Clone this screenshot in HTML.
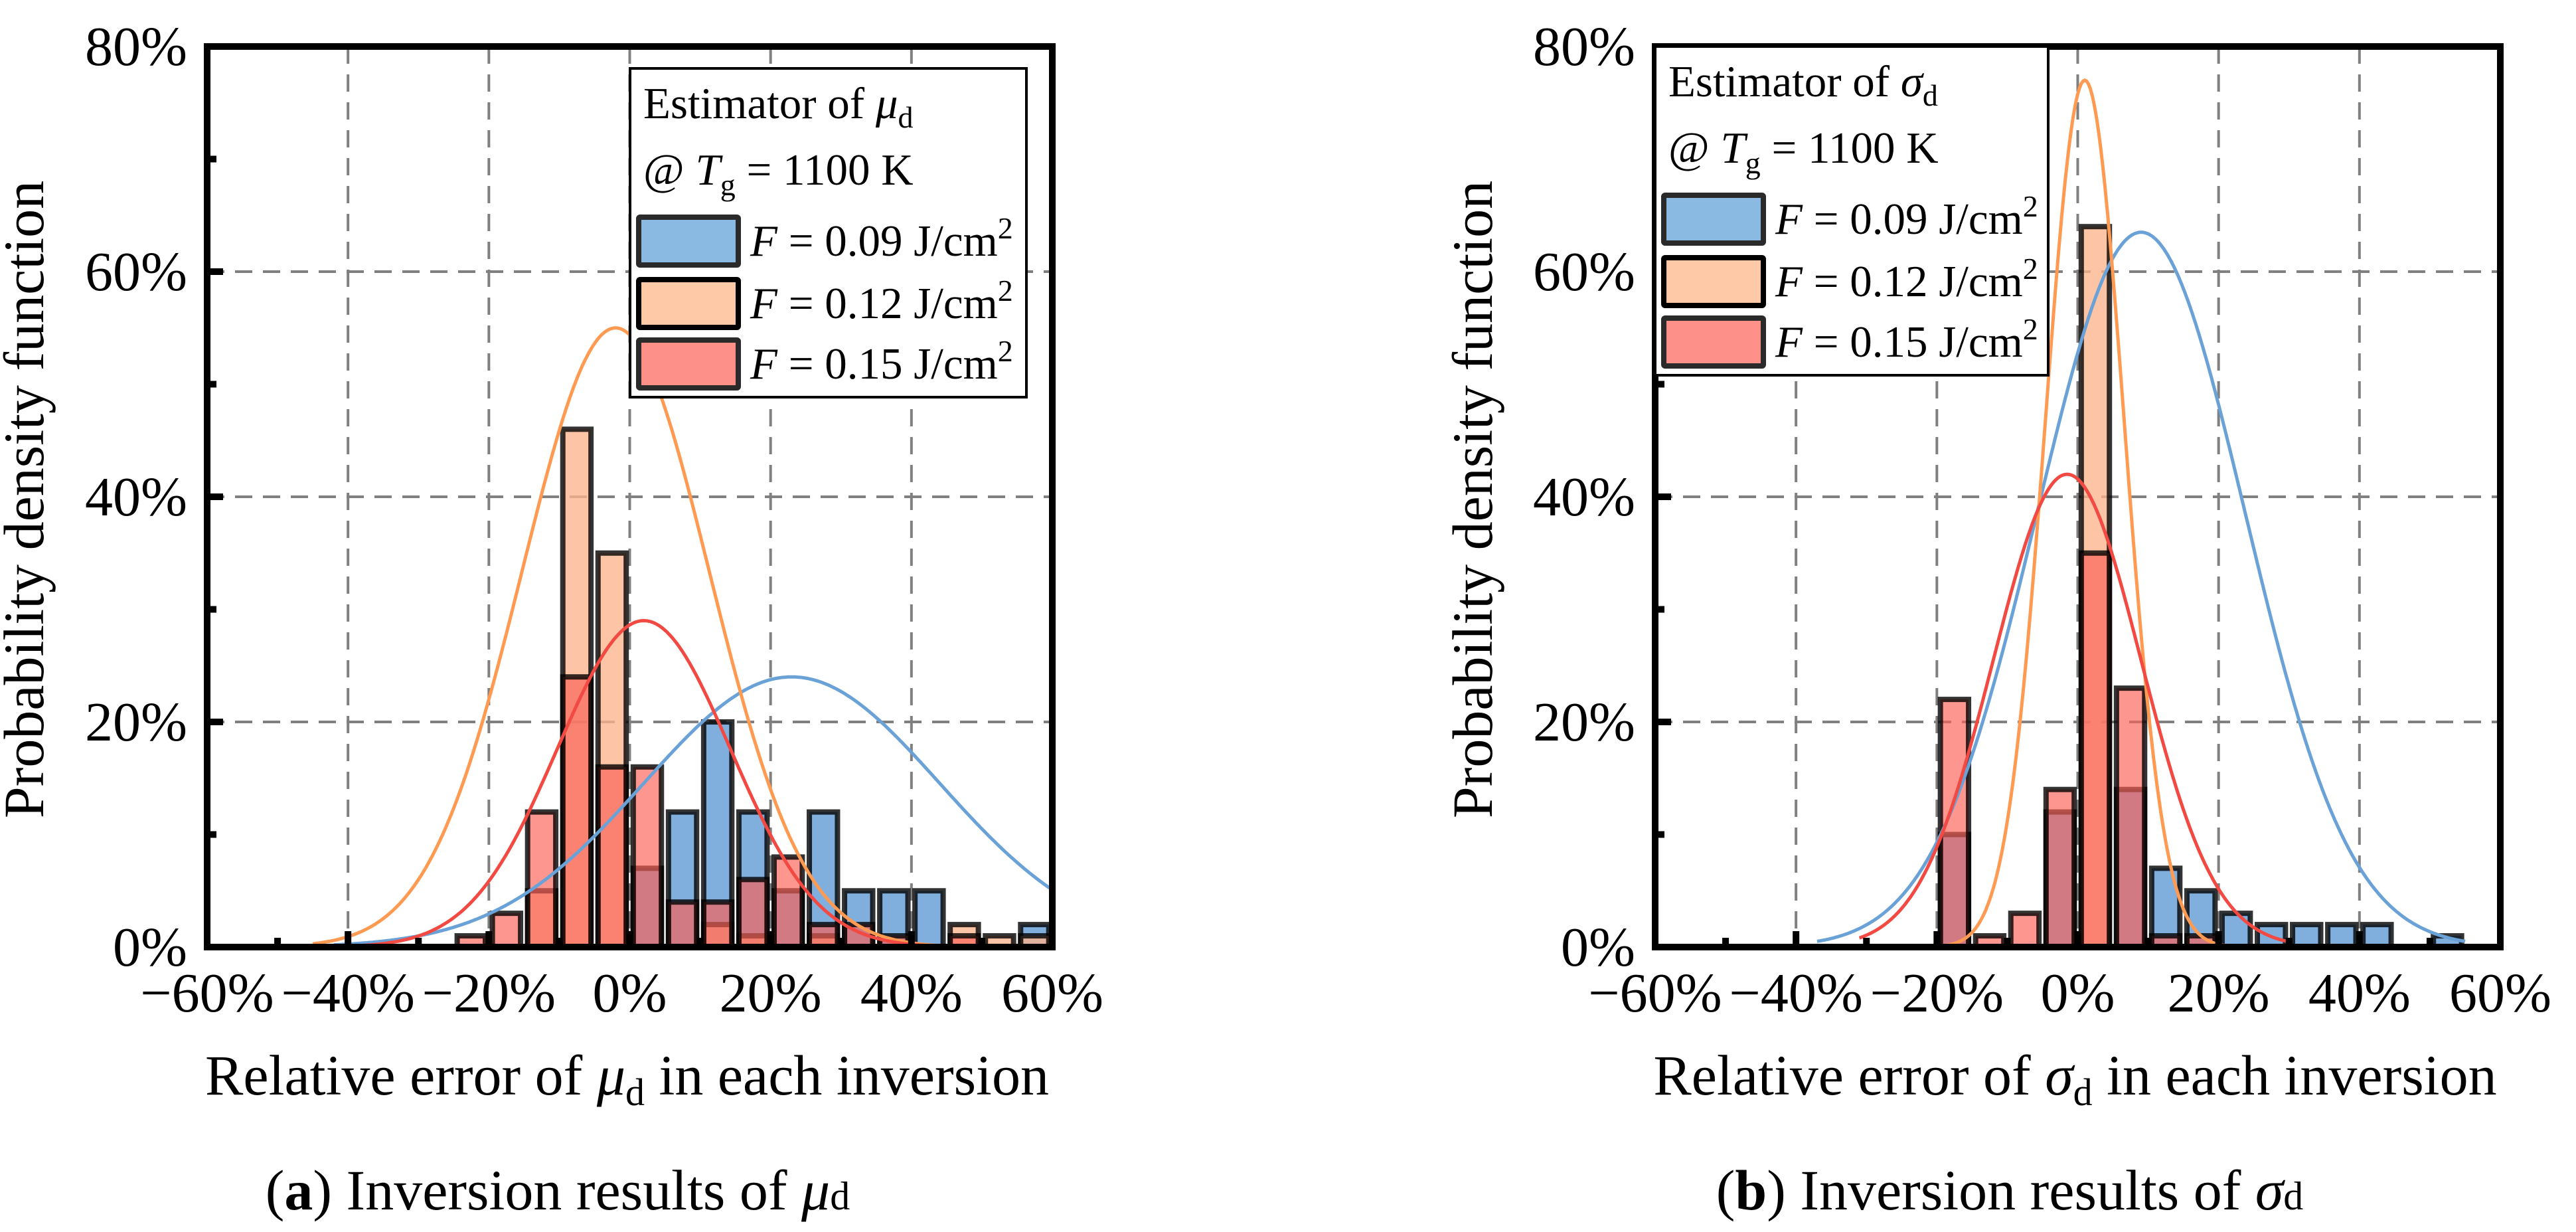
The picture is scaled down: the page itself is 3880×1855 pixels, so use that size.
<!DOCTYPE html>
<html><head><meta charset="utf-8"><style>
html,body{margin:0;padding:0;background:#fff;}
svg{display:block;font-family:"Liberation Serif",serif;}
</style></head><body>
<svg id="fig" width="3880" height="1855" viewBox="0 0 3880 1855" xmlns="http://www.w3.org/2000/svg"></svg>
<script>
// ---------- data ----------
const binCenters = [-22.5,-17.5,-12.5,-7.5,-2.5,2.5,7.5,12.5,17.5,22.5,27.5,32.5,37.5,42.5,47.5,52.5,57.5];
const seriesNames = ["F = 0.09 J/cm2","F = 0.12 J/cm2","F = 0.15 J/cm2"];
// chart (a) mu_d
const aBlue   = [0,0,0,0,0,7,12,20,12,5,12,5,5,5,0,0,2];
const aOrange = [0,0,5,46,35,0,0,2,1,0,1,0,0,0,2,1,1];
const aRed    = [1,3,12,24,16,16,4,4,6,8,2,2,1,0,1,0,0];
// fitted normal curves: mean, sd, peak, start, end (in %)
const aCurveMean = [23,-2,2];
const aCurveSd   = [21,13.3,12.3];
const aCurvePeak = [24,55,29];
const aCurveFrom = [-42,-45,-40];
const aCurveTo   = [60,60,60];
// chart (b) sigma_d
const bBlue   = [0,10,0,0,12,0,14,7,5,3,2,2,2,2,0,1,0];
const bOrange = [0,0,0,0,0,64,0,0,0,0,0,0,0,0,0,0,0];
const bRed    = [0,22,1,3,14,35,23,1,1,0,0,0,0,0,0,0,0];
const bCurveMean = [9,1,-1.5];
const bCurveSd   = [14.8,5.6,10.5];
const bCurvePeak = [63.5,77,42];
const bCurveFrom = [-37,-30,-31];
const bCurveTo   = [55,30,30];
const xTicks = [-60,-40,-20,0,20,40,60];
const yTicks = [0,20,40,60,80];

const NS = "http://www.w3.org/2000/svg";
const svg = document.getElementById("fig");
function mk(tag, attrs, parent){
  const e = document.createElementNS(NS, tag);
  for (const k in attrs) e.setAttribute(k, attrs[k]);
  (parent||svg).appendChild(e);
  return e;
}
const fills = ["rgba(79,143,208,0.72)","rgba(253,180,140,0.78)","rgba(250,95,85,0.66)"];
const legFills = ["#8ab9e1","#fdc9a7","#fd918a"];
const lineCols = ["#6aa2d8","#ff9a52","#f24a42"];

function drawChart(ox, sym, bars, cm, cs, cp, cf, ct, legW, legX, legY, letter, capX, ytitleX){
  const L = ox, R = ox + 1273, T = 70, B = 1426;
  const xs = v => L + (v + 60) / 120 * (R - L);
  const ys = v => B - v / 80 * (B - T);
  const g = mk("g", {});
  
  
  [-40,-20,0,20,40].forEach(v=>{
    const l = mk("line",{x1:xs(v),x2:xs(v),y1:T,y2:B,stroke:"#808080","stroke-width":4,"stroke-dasharray":"26,16"},g);
    
    
  });
  [20,40,60].forEach(v=>{
    const l = mk("line",{x1:L,x2:R,y1:ys(v),y2:ys(v),stroke:"#808080","stroke-width":4,"stroke-dasharray":"26,16"},g);
    
    
  });
  const bw = (xs(4) - xs(0));
  bars.forEach((arr, si) => {
    arr.forEach((v, i) => {
      if (!v) return;
      const r = mk("rect",{x:xs(binCenters[i]) - bw/2, y:ys(v), width:bw, height:ys(0)-ys(v), fill:fills[si], stroke:"rgba(0,0,0,0.8)","stroke-width":8},g);
      
      
    });
  });
  for (let si = 0; si < 3; si++){
    let d = "";
    for (let x = cf[si]; x <= ct[si] + 1e-9; x += 0.25){
      const y = cp[si] * Math.exp(-Math.pow(x - cm[si], 2) / (2 * cs[si] * cs[si]));
      d += (d ? "L" : "M") + xs(x).toFixed(1) + "," + ys(y).toFixed(1);
    }
    const p = mk("path",{d:d, fill:"none", stroke:lineCols[si], "stroke-width":5},g);
    
    
  }
  const fr = mk("rect",{x:L,y:T,width:R-L,height:B-T,fill:"none",stroke:"#000","stroke-width":10},g);
  
  
  for (let v = -50; v <= 50; v += 10){
    const len = (v % 20 === 0) ? 24 : 14;
    mk("line",{x1:xs(v),x2:xs(v),y1:B,y2:B-len,stroke:"#000","stroke-width":10},g);
  }
  for (let v = 10; v <= 70; v += 10){
    const len = (v % 20 === 0) ? 24 : 14;
    mk("line",{x1:L,x2:L+len,y1:ys(v),y2:ys(v),stroke:"#000","stroke-width":10},g);
  }
  xTicks.forEach(v=>{
    const t = mk("text",{x:xs(v),y:1523,"font-size":84,"text-anchor":"middle"},g);
    t.textContent = (v<0?"\u2212":"") + Math.abs(v) + "%";
    
    
  });
  yTicks.forEach(v=>{
    const t = mk("text",{x:L-30,y:ys(v)+28,"font-size":84,"text-anchor":"end"},g);
    t.textContent = v + "%";
    
    
  });
  const xt = mk("text",{x:(L+R)/2 - 4,y:1648,"font-size":86,"text-anchor":"middle"},g);
  xt.innerHTML = 'Relative error of <tspan font-style="italic">'+sym+'</tspan><tspan font-size="58" dy="16">d</tspan><tspan dy="-16"> in each inversion</tspan>';
  
  
  const yt = mk("text",{x:0,y:0,"font-size":86,"text-anchor":"middle",transform:"translate("+ytitleX+",752) rotate(-90)"},g);
  yt.textContent = "Probability density function";
  
  
  const lg = mk("g",{},g);
  
  
  mk("rect",{x:legX,y:legY,width:legW,height:495,fill:"#fff",stroke:"#000","stroke-width":4},lg);
  const l1 = mk("text",{x:legX+20,y:legY+75,"font-size":67},lg);
  l1.innerHTML = 'Estimator of <tspan font-style="italic">'+sym+'</tspan><tspan font-size="46" dy="14">d</tspan>';
  const l2 = mk("text",{x:legX+20,y:legY+175,"font-size":67},lg);
  l2.innerHTML = '@ <tspan font-style="italic">T</tspan><tspan font-size="46" dy="16">g</tspan><tspan dy="-16"> = 1100 K</tspan>';
  const rowsY = [legY+220, legY+314, legY+405];
  const vals = ["0.09","0.12","0.15"];
  for (let i=0;i<3;i++){
    const sw = mk("rect",{x:legX+13,y:rowsY[i]+4,width:150,height:72,fill:legFills[i],stroke:i===1?"#000":"#2a2a2a","stroke-width":8,rx:2},lg);
    
    
    const t = mk("text",{x:legX+181,y:rowsY[i]+62,"font-size":67},lg);
    t.innerHTML = '<tspan font-style="italic">F</tspan> = '+vals[i]+' J/cm<tspan font-size="46" dy="-26">2</tspan>';
    
    
  }
  const c = mk("text",{x:capX,y:1821,"font-size":86,"text-anchor":"middle"},g);
  c.innerHTML = '(<tspan font-weight="bold">'+letter+'</tspan>) Inversion results of <tspan font-style="italic">'+sym+'</tspan><tspan font-size="60">d</tspan>';
  
  
}
drawChart(312, "\u03BC", [aBlue,aOrange,aRed], aCurveMean,aCurveSd,aCurvePeak,aCurveFrom,aCurveTo, 597, 949, 103, "a", 840, 65);
drawChart(2493, "\u03C3", [bBlue,bOrange,bRed], bCurveMean,bCurveSd,bCurvePeak,bCurveFrom,bCurveTo, 592, 2493, 70, "b", 3027, 2247);
</script>
</body></html>
